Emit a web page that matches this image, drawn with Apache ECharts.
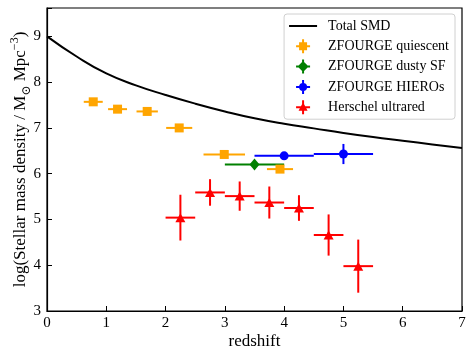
<!DOCTYPE html>
<html>
<head>
<meta charset="utf-8">
<script src="https://cdn.jsdelivr.net/npm/echarts@6/dist/echarts.min.js"></script>
<style>
  html, body { margin: 0; padding: 0; background: #fff; }
  #chart { width: 475px; height: 360px; }
</style>
</head>
<body>
<div id="chart"></div>
<script>
// total stellar mass density curve
var smd_z = [0, 0.5, 1, 1.5, 2, 2.5, 3, 3.5, 4, 4.5, 5, 5.5, 6, 6.5, 7];
var smd_logrho = [9.0, 8.56, 8.19, 7.93, 7.72, 7.53, 7.36, 7.21, 7.09, 6.99, 6.89, 6.80, 6.72, 6.64, 6.56];

// ZFOURGE quiescent
var qui_z = [0.78, 1.19, 1.69, 2.23, 2.99, 3.93];
var qui_zerr = [0.16, 0.16, 0.18, 0.22, 0.35, 0.22];
var qui_logrho = [7.57, 7.41, 7.36, 7.00, 6.42, 6.10];
var qui_err = [0.04, 0.04, 0.04, 0.04, 0.04, 0.05];

// ZFOURGE dusty SF
var dsf_z = [3.5];
var dsf_zerr = [0.5];
var dsf_logrho = [6.20];
var dsf_err = [0.04];

// ZFOURGE HIEROs
var hie_z = [4.0, 5.0];
var hie_zerr = [0.5, 0.5];
var hie_logrho = [6.39, 6.43];
var hie_err = [0.08, 0.22];

// Herschel ultrared
var her_z = [2.25, 2.75, 3.25, 3.75, 4.25, 4.75, 5.25];
var her_zerr = [0.25, 0.25, 0.25, 0.25, 0.25, 0.25, 0.25];
var her_logrho = [5.04, 5.59, 5.51, 5.37, 5.25, 4.66, 3.98];
var her_err = [0.50, 0.29, 0.32, 0.35, 0.28, 0.45, 0.58];

var x_ticks = [0, 7, 1];
var y_ticks = [3, 9.62, 1];

var serif = '"Liberation Serif", "DejaVu Serif", serif';

function zip(z, zerr, v, verr) {
    var out = [];
    for (var i = 0; i < z.length; i++) out.push([z[i], v[i], zerr[i], verr[i]]);
    return out;
}

function errorbars(data, color) {
    return {
        type: 'custom',
        z: 1,
        silent: true,
        data: data,
        renderItem: function (params, api) {
            var x = api.value(0), y = api.value(1), dx = api.value(2), dy = api.value(3);
            var l = api.coord([x - dx, y]), r = api.coord([x + dx, y]);
            var t = api.coord([x, y + dy]), b = api.coord([x, y - dy]);
            var st = {stroke: color, lineWidth: 2};
            return {
                type: 'group',
                children: [
                    {type: 'line', shape: {x1: l[0], y1: l[1], x2: r[0], y2: r[1]}, style: st},
                    {type: 'line', shape: {x1: t[0], y1: t[1], x2: b[0], y2: b[1]}, style: st}
                ]
            };
        }
    };
}

function markers(name, data, color, symbol, size) {
    return {
        name: name,
        type: 'scatter',
        z: 3,
        data: data,
        symbol: symbol,
        symbolSize: size,
        itemStyle: {color: color, opacity: 1}
    };
}

// legend icons: error-bar cross plus marker, 14x14
var cross = 'M0,6 H14 V8 H0 Z M6,0 H8 V14 H6 Z ';
var icon_line = 'path://M0,0 H28 V2 H0 Z';
var icon_sq = 'path://' + cross + 'M3,3 H11 V11 H3 Z';
var icon_dia = 'path://' + cross + 'M7,1.5 L12.5,7 L7,12.5 L1.5,7 Z';
var icon_circ = 'path://' + cross + 'M3,7 A4,4 0 1 1 11,7 A4,4 0 1 1 3,7 Z';
var icon_tri = 'path://' + cross + 'M7,2 L11.5,10.5 L2.5,10.5 Z';

var chart = echarts.init(document.getElementById('chart'));
chart.setOption({
    animation: false,
    backgroundColor: '#fff',
    grid: {
        left: 47, right: 13, top: 8, bottom: 49,
        outerBoundsMode: 'none',
        containLabel: false,
        show: true,
        borderColor: '#000',
        borderWidth: 1.2
    },
    legend: {
        orient: 'vertical',
        right: 20, top: 14,
        padding: [5, 6, 5, 5],
        backgroundColor: '#fff',
        borderColor: '#d0d0d0',
        borderWidth: 1,
        borderRadius: 3,
        itemWidth: 28, itemHeight: 14, itemGap: 6.3,
        textStyle: {fontFamily: serif, fontSize: 14, color: '#000', padding: [0, 0, 0, 6]},
        data: [
            {name: 'Total SMD', icon: icon_line},
            {name: 'ZFOURGE quiescent', icon: icon_sq},
            {name: 'ZFOURGE dusty SF', icon: icon_dia},
            {name: 'ZFOURGE HIEROs', icon: icon_circ},
            {name: 'Herschel ultrared', icon: icon_tri}
        ]
    },
    xAxis: {
        type: 'value',
        min: x_ticks[0], max: x_ticks[1], interval: x_ticks[2],
        name: 'redshift',
        nameLocation: 'middle',
        nameGap: 22,
        nameMoveOverlap: false,
        nameTextStyle: {fontFamily: serif, fontSize: 17, color: '#000'},
        axisLine: {lineStyle: {color: '#000', width: 1.2}},
        axisTick: {inside: true, length: 5, lineStyle: {color: '#000'}},
        axisLabel: {fontFamily: serif, fontSize: 15, color: '#000', margin: 5},
        splitLine: {show: false}
    },
    yAxis: {
        type: 'value',
        min: y_ticks[0], max: y_ticks[1], interval: y_ticks[2],
        name: '{a|log(Stellar mass density / M}{b|⊙}{a| Mpc}{c|−3}{a|)}',
        nameLocation: 'middle',
        nameGap: 14,
        nameMoveOverlap: false,
        nameTextStyle: {
            fontFamily: serif, fontSize: 17, color: '#000',
            rich: {
                a: {fontFamily: serif, fontSize: 17, color: '#000', lineHeight: 24},
                b: {fontFamily: serif, fontSize: 12, color: '#000', lineHeight: 24, verticalAlign: 'bottom'},
                c: {fontFamily: serif, fontSize: 12, color: '#000', lineHeight: 24, verticalAlign: 'top'}
            }
        },
        axisLine: {lineStyle: {color: '#000', width: 1.2}},
        axisTick: {inside: true, length: 5, lineStyle: {color: '#000'}},
        axisLabel: {
            fontFamily: serif, fontSize: 15, color: '#000', margin: 6,
            formatter: function (v) { return Math.abs(v - Math.round(v)) < 1e-6 ? String(Math.round(v)) : ''; }
        },
        splitLine: {show: false}
    },
    series: [
        {
            name: 'Total SMD',
            type: 'line',
            smooth: 0.5,
            symbol: 'none',
            data: smd_z.map(function (z, i) { return [z, smd_logrho[i]]; }),
            lineStyle: {color: '#000', width: 2},
            itemStyle: {color: '#000'}
        },
        errorbars(zip(qui_z, qui_zerr, qui_logrho, qui_err), '#FFA500'),
        errorbars(zip(dsf_z, dsf_zerr, dsf_logrho, dsf_err), '#008000'),
        errorbars(zip(hie_z, hie_zerr, hie_logrho, hie_err), '#0000FF'),
        errorbars(zip(her_z, her_zerr, her_logrho, her_err), '#FF0000'),
        markers('ZFOURGE quiescent', qui_z.map(function (z, i) { return [z, qui_logrho[i]]; }), '#FFA500', 'rect', 9),
        markers('ZFOURGE dusty SF', dsf_z.map(function (z, i) { return [z, dsf_logrho[i]]; }), '#008000', 'diamond', [10, 12]),
        markers('ZFOURGE HIEROs', hie_z.map(function (z, i) { return [z, hie_logrho[i]]; }), '#0000FF', 'circle', 9),
        markers('Herschel ultrared', her_z.map(function (z, i) { return [z, her_logrho[i]]; }), '#FF0000', 'triangle', [10, 9])
    ]
});
</script>
</body>
</html>
